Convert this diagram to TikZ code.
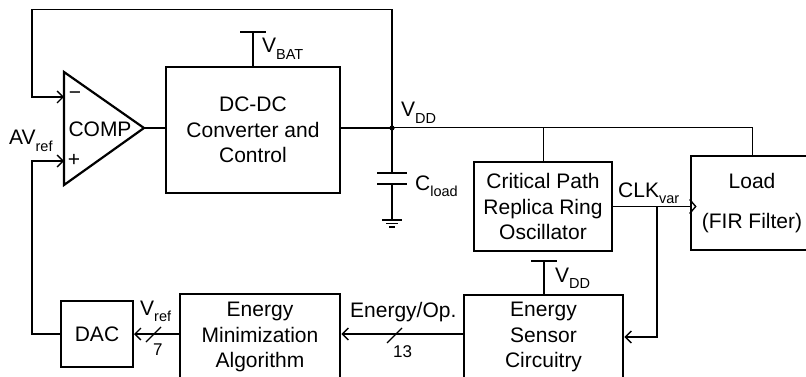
\documentclass[tikz,border=0pt]{standalone}
\usepackage{fontspec}
\setmainfont{Liberation Sans}
\usetikzlibrary{positioning,calc,arrows.meta}
\newcommand{\lsub}[1]{\raisebox{-6.5pt}{\fontsize{14.5}{15}\selectfont #1}}
\begin{document}
\begin{tikzpicture}[x=1pt, y=-1pt,
				font=\fontsize{21}{25.5}\selectfont,
				block/.style={rectangle, draw=black, line width=2.6pt, align=center, inner sep=0pt},
				small/.style={rectangle, draw=black, line width=2pt, align=center, inner sep=0pt},
				label/.style={anchor=base west, inner sep=0pt},
				num/.style={anchor=base west, inner sep=0pt, font=\fontsize{17}{18}\selectfont},
				wire/.style={line width=1.4pt},
				bus/.style={line width=1pt},
				arr/.style={line width=1.4pt, -{Straight Barb[length=6pt, width=12pt]}}
			]
			\useasboundingbox (0,0) rectangle (806,377);
			% blocks
			\node[block, minimum width=174pt, minimum height=126pt] (dcdc) at (253,130) {DC-DC\\Converter and\\Control};
			\node[block, minimum width=138pt, minimum height=89pt] (crit) at (543,206.5) {Critical Path\\Replica Ring\\Oscillator};
			\node[block, minimum width=140pt, minimum height=94pt] (load) at (761,203) {};
			\node[align=center] (loadtext) at (752,203) {Load\\[14.5pt](FIR Filter)};
			\node[block, minimum width=159pt, minimum height=84pt] (sensor) at (543.5,337) {Energy\\Sensor\\Circuitry};
			\node[block, minimum width=160pt, minimum height=86pt] (minim) at (260,337) {Energy\\Minimization\\Algorithm};
			\node[small, minimum width=72pt, minimum height=66pt] (dac) at (97,334) {DAC};
			% comparator
			\coordinate (ctop) at (64,72);
			\coordinate (cbot) at (64,185);
			\coordinate (cout) at (144,128);
			\coordinate (cminus) at (64,97);
			\coordinate (cplus) at (64,161);
			\draw[line width=2.2pt, line join=miter] (ctop) -- (cout) -- (cbot) -- cycle;
			\node (comp) at (100,129) {COMP};
			\node (minus) at (75,96) {−};
			\node (plus) at (74,160) {+};
			\node[label] (avref) at (9,145) {AV\lsub{ref}};
			% supply node and capacitor
			\coordinate (vdd) at (392,128);
			\coordinate (captop) at (392,173);
			\coordinate (capbot) at (392,184);
			\coordinate (gnd) at (392,220);
			\fill (vdd) circle (2.6pt);
			\node[label] (vddlabel) at (401,117) {V\lsub{DD}};
			\draw[wire] (dcdc.east |- vdd) -- (vdd);
			\draw[wire] (cout) -- (cout -| dcdc.west);
			\draw[bus] (vdd) -- (752,128) -- (752,0 |- load.north);
			\draw[bus] (crit.north |- vdd) -- (crit.north);
			\draw[wire] (vdd) -- (captop);
			\draw[wire] (capbot) -- (gnd);
			\draw[line width=2.4pt] ($(captop)+(-15,0)$) -- ($(captop)+(15,0)$);
			\draw[line width=2.4pt] ($(capbot)+(-15,0)$) -- ($(capbot)+(15,0)$);
			\draw[wire] ($(gnd)+(-10,0)$) -- ($(gnd)+(10,0)$);
			\draw[wire] ($(gnd)+(-6,3.5)$) -- ($(gnd)+(6,3.5)$);
			\draw[wire] ($(gnd)+(-3,7)$) -- ($(gnd)+(3,7)$);
			\node[label] (cload) at (415,190) {C\lsub{load}};
			% battery supply
			\coordinate (vbat) at (253,32);
			\draw[wire] (vbat) -- (dcdc.north);
			\draw[wire] ($(vbat)+(-13,0)$) -- ($(vbat)+(13,0)$);
			\node[label] (vbatlabel) at (262,53) {V\lsub{BAT}};
			% sensor supply
			\coordinate (vdds) at (544,261);
			\draw[wire] (vdds) -- (vdds |- sensor.north);
			\draw[wire] ($(vdds)+(-13,0)$) -- ($(vdds)+(13,0)$);
			\node[label] (vddslabel) at (555,282) {V\lsub{DD}};
			% feedback loop
			\draw[arr] (vdd) -- (392,9.5) -- (32,9.5) -- (32,97) -- (cminus);
			\draw[arr] (dac.west) -- (32,334) -- (32,161) -- (cplus);
			% clock
			\coordinate (clkin) at (crit.east -| load.west);
			\coordinate (clkbr) at (657,206.5);
			\draw[wire] (crit.east) -- (clkin);
			\draw[wire] ($(clkin)+(0,-7)$) -- ($(clkin)+(6,0)$) -- ($(clkin)+(0,7)$);
			\node[label] (clklabel) at (618,197) {CLK\lsub{var}};
			\draw[arr] (clkbr) -- (clkbr |- sensor.east) -- (sensor.east);
			% data paths
			\draw[arr] (sensor.west |- 0,334) -- (minim.east |- 0,334);
			\draw[wire] (387,343) -- (402,328);
			\node[label] (oplabel) at (350,317) {Energy/Op.};
			\node[num] (nthirteen) at (393,357) {13};
			\draw[arr] (minim.west |- dac.east) -- (dac.east);
			\draw[wire] (146,342) -- (161,327);
			\node[label] (vreflabel) at (140,315) {V\lsub{ref}};
			\node[num] (nseven) at (153,355) {7};
			\end{tikzpicture}
\end{document}
